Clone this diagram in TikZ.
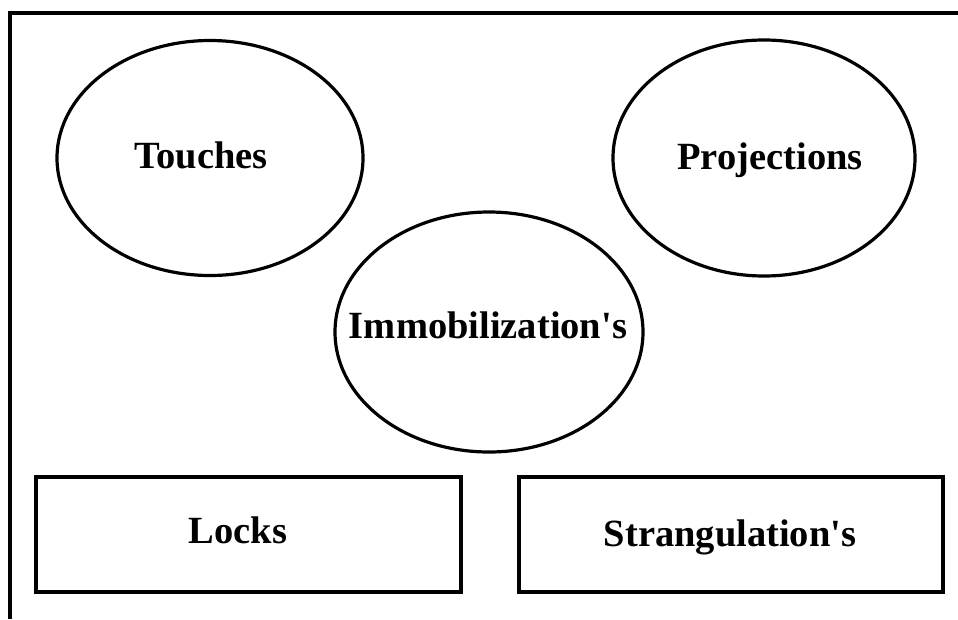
\documentclass[tikz,border=0pt]{standalone}
\usepackage{fontspec}
\setmainfont{Liberation Serif}
\usetikzlibrary{shapes.geometric}
\begin{document}
\begin{tikzpicture}[x=1pt,y=-1pt,
  oval/.style={draw,line width=3.2pt,ellipse,inner sep=0pt},
  boxnode/.style={draw,line width=3.2pt,rectangle,inner sep=0pt},
  lbl/.style={font=\fontsize{38.5}{40}\selectfont\bfseries,anchor=base,inner sep=0pt}]
\useasboundingbox[fill=white] (0,0) rectangle (958,619);
\coordinate (ftl) at (10,13);
\coordinate (ftr) at (958,13);
\coordinate (fbl) at (10,619);
\draw[line width=4pt] (ftr) -- (ftl) -- (fbl);
\node[oval,minimum width=306pt,minimum height=235pt] (touches) at (210,158) {};
\node[lbl] (tt) at (201,168) {Touches};
\node[oval,minimum width=302pt,minimum height=236pt] (proj) at (764,158) {};
\node[lbl] (pt) at (770,169) {Projections};
\node[oval,minimum width=308pt,minimum height=240pt] (immo) at (489,332) {};
\node[lbl] (it) at (488,338) {Immobilization\textquotesingle s};
\node[boxnode,minimum width=425pt,minimum height=115pt] (locks) at (248.5,534.5) {};
\node[lbl] (lt) at (238,543) {Locks};
\node[boxnode,minimum width=424pt,minimum height=115pt] (strang) at (731,534.5) {};
\node[lbl] (st) at (730,546) {Strangulation\textquotesingle s};
\end{tikzpicture}
\end{document}
